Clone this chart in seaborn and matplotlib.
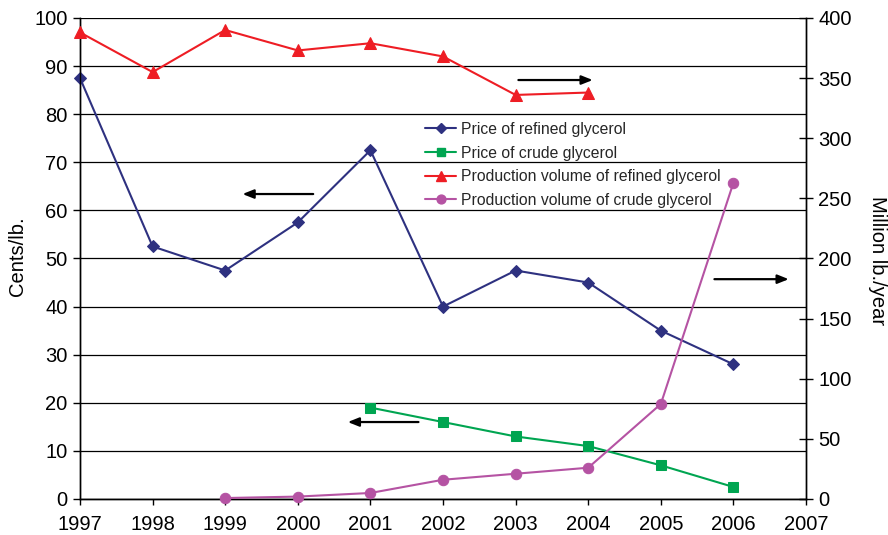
import matplotlib
matplotlib.use("Agg")
import matplotlib.pyplot as plt
import seaborn as sns
import pandas as pd
from matplotlib.lines import Line2D

sns.set_theme(style="white")
plt.rcParams["font.family"] = ["Liberation Sans", "DejaVu Sans"]

years = [1997, 1998, 1999, 2000, 2001, 2002, 2003, 2004, 2005, 2006]

# Prices (cents/lb., left axis)
refined_price = [87.5, 52.5, 47.5, 57.5, 72.5, 40.0, 47.5, 45.0, 35.0, 28.0]
crude_price_years = [2001, 2002, 2003, 2004, 2005, 2006]
crude_price = [19.0, 16.0, 13.0, 11.0, 7.0, 2.5]

# Production volumes (million lb./year, right axis)
refined_prod_years = [1997, 1998, 1999, 2000, 2001, 2002, 2003, 2004]
refined_prod = [388, 355, 390, 373, 379, 368, 336, 338]
crude_prod_years = [1999, 2000, 2001, 2002, 2003, 2004, 2005, 2006]
crude_prod = [0.8, 2, 5, 16, 21, 26, 79, 263]

labels = ["Price of refined glycerol", "Price of crude glycerol",
          "Production volume of refined glycerol", "Production volume of crude glycerol"]
colors = ["#2E3180", "#00A551", "#EE1D24", "#B553A3"]
markers = ["D", "s", "^", "o"]
msizes = [6.5, 7.5, 8.5, 7.5]

fig = plt.figure(figsize=(8.88, 5.35), dpi=100)
ax = fig.add_axes([0.0901, 0.0673, 0.8176, 0.8991])
ax2 = ax.twinx()

df_rp = pd.DataFrame({"year": years, "v": refined_price})
df_cp = pd.DataFrame({"year": crude_price_years, "v": crude_price})
df_rv = pd.DataFrame({"year": refined_prod_years, "v": refined_prod})
df_cv = pd.DataFrame({"year": crude_prod_years, "v": crude_prod})

for a, d, c, m, ms in [(ax, df_rp, colors[0], markers[0], msizes[0]),
                       (ax, df_cp, colors[1], markers[1], msizes[1]),
                       (ax2, df_rv, colors[2], markers[2], msizes[2]),
                       (ax2, df_cv, colors[3], markers[3], msizes[3])]:
    sns.lineplot(data=d, x="year", y="v", ax=a, color=c, marker=m,
                 markersize=ms, markeredgecolor=c, linewidth=1.5, legend=False,
                 clip_on=False, zorder=5)

ax.set_xlim(1997, 2007)
ax.set_ylim(0, 100)
ax2.set_ylim(0, 400)
ax.set_xticks(range(1997, 2008))
ax.set_yticks(range(0, 101, 10))
ax2.set_yticks(range(0, 401, 50))

ax.yaxis.grid(True, color="black", linewidth=0.9)
ax.xaxis.grid(False)
ax.set_axisbelow(True)
ax2.grid(False)

for a in (ax, ax2):
    for s in a.spines.values():
        s.set_color("black")
        s.set_linewidth(1.0)
    a.spines["top"].set_visible(False)

ax.tick_params(axis="y", labelsize=14.5, colors="black", direction="out",
               length=5, width=1, left=True, pad=4)
ax.tick_params(axis="x", labelsize=14.5, colors="black", direction="out",
               length=4.5, width=1, bottom=True, pad=7)
ax2.tick_params(axis="y", labelsize=14.5, colors="black", direction="inout",
                length=9.5, width=1, right=True, pad=4)

ax.set_xlabel("")
ax.set_ylabel("Cents/lb.", fontsize=14.5, color="black", va="center")
ax.yaxis.set_label_coords(-0.086, 0.505)
ax2.set_ylabel("Million lb./year", fontsize=14.5, color="black", rotation=270,
               va="center")
ax2.yaxis.set_label_coords(1.099, 0.495)

# Direction arrows pointing to the matching axis
arrow_kw = dict(arrowstyle="-|>,head_length=0.55,head_width=0.22", color="black", lw=1.6)
for (x0, y0, x1, y1) in [(2000.25, 63.4, 1999.2, 63.4),
                         (2003.0, 87.1, 2004.1, 87.1),
                         (2001.7, 16.0, 2000.65, 16.0),
                         (2005.7, 45.7, 2006.8, 45.7)]:
    ax.annotate("", xy=(x1, y1), xytext=(x0, y0), arrowprops=arrow_kw, zorder=6)

handles = [Line2D([], [], color=c, marker=m, markersize=ms * 0.85,
                  markeredgecolor=c, linewidth=1.5)
           for c, m, ms in zip(colors, markers, msizes)]
leg = ax.legend(handles, labels, loc="upper left", bbox_to_anchor=(0.475, 0.784),
                frameon=False, fontsize=11.3, handlelength=2.0, handletextpad=0.33,
                labelspacing=0.55, borderaxespad=0, borderpad=0)
leg.set_zorder(4)

fig.savefig("out.png", dpi=100)
